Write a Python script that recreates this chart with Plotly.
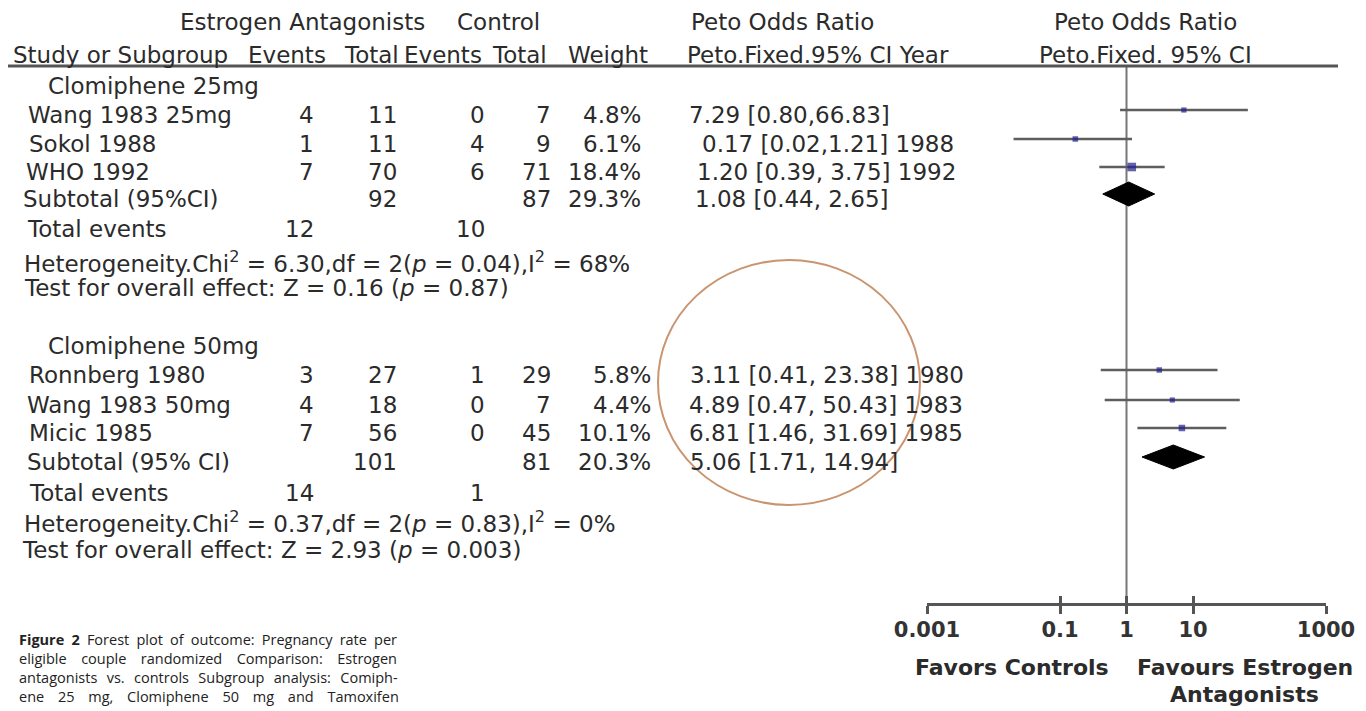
import plotly.graph_objects as go

# ---------------- data ----------------
group_names = ["Clomiphene 25mg", "Clomiphene 50mg"]

studies_g1 = ["Wang 1983 25mg", "Sokol 1988", "WHO 1992"]
ea_events_g1 = [4, 1, 7]
ea_total_g1 = [11, 11, 70]
c_events_g1 = [0, 4, 6]
c_total_g1 = [7, 9, 71]
weight_g1 = [4.8, 6.1, 18.4]
or_g1 = [7.29, 0.17, 1.20]
lo_g1 = [0.80, 0.02, 0.39]
hi_g1 = [66.83, 1.21, 3.75]
ci_text_g1 = ["7.29 [0.80,66.83]", "0.17 [0.02,1.21] 1988", "1.20 [0.39, 3.75] 1992"]

studies_g2 = ["Ronnberg 1980", "Wang 1983 50mg", "Micic 1985"]
ea_events_g2 = [3, 4, 7]
ea_total_g2 = [27, 18, 56]
c_events_g2 = [1, 0, 0]
c_total_g2 = [29, 7, 45]
weight_g2 = [5.8, 4.4, 10.1]
or_g2 = [3.11, 4.89, 6.81]
lo_g2 = [0.41, 0.47, 1.46]
hi_g2 = [23.38, 50.43, 31.69]
ci_text_g2 = ["3.11 [0.41, 23.38] 1980", "4.89 [0.47, 50.43] 1983", "6.81 [1.46, 31.69] 1985"]

subtotal_labels = ["Subtotal (95%CI)", "Subtotal (95% CI)"]
subtotal_ea_total = [92, 101]
subtotal_c_total = [87, 81]
subtotal_weight = [29.3, 20.3]
subtotal_or = [1.08, 5.06]
subtotal_lo = [0.44, 1.71]
subtotal_hi = [2.65, 14.94]
subtotal_ci_text = ["1.08 [0.44, 2.65]", "5.06 [1.71, 14.94]"]

total_events_ea = [12, 14]
total_events_c = [10, 1]
het_chi2 = ["6.30", "0.37"]
het_df = [2, 2]
het_p = ["0.04", "0.83"]
het_i2 = [68, 0]
z_value = ["0.16", "2.93"]
z_p = ["0.87", "0.003"]

axis_ticks = [0.001, 0.1, 1, 10, 1000]
axis_ticktext = ["0.001", "0.1", "1", "10", "1000"]

caption_lines = [
    "<b>Figure 2</b> Forest plot of outcome: Pregnancy rate per",
    "eligible couple randomized Comparison: Estrogen",
    "antagonists vs. controls Subgroup analysis: Comiph-",
    "ene 25 mg, Clomiphene 50 mg and Tamoxifen",
]

# ---------------- layout helpers ----------------
W, H = 1366, 711
TXT = "#2b2b2b"
FONT = "DejaVu Sans"
FS = 23


def px(x):
    return x / W


ann = []


def add_text(x, y, text, anchor="left", size=FS, family=FONT, color=TXT, weight=None):
    f = dict(family=family, size=size, color=color)
    if weight:
        f["weight"] = weight
    ann.append(dict(x=px(x), y=y, xref="paper", yref="y", text=text, showarrow=False,
                    xanchor=anchor, yanchor="middle", align="left", font=f))


# headers
add_text(302, 22, "Estrogen Antagonists", "center")
add_text(498, 22, "Control", "center")
add_text(783, 22, "Peto Odds Ratio", "center")
add_text(1145, 22, "Peto Odds Ratio", "center")
add_text(11, 55, "Study or Subgroup")
for xr, t in zip([328, 401, 484, 549, 650], ["Events", "Total", "Events", "Total", "Weight"]):
    add_text(xr, 55, t, "right")
add_text(685, 55, "Peto.Fixed.95% CI Year")
add_text(1145, 55, "Peto.Fixed. 95% CI", "center")

# row positions (pixels)
groups = [
    dict(head=86, rows=[115, 144, 172], sub=199, tot=229, het=262, test=288,
         name_x=[26, 27, 24], ci_x=[687, 700, 695], sub_ci_x=693, w_right=643,
         studies=studies_g1, ea_e=ea_events_g1, ea_t=ea_total_g1, c_e=c_events_g1,
         c_t=c_total_g1, w=weight_g1, orv=or_g1, lo=lo_g1, hi=hi_g1, ci=ci_text_g1,
         sub_x=21, tot_x=25, het_x=22, test_x=22),
    dict(head=346, rows=[375, 405, 433], sub=462, tot=493, het=522, test=550,
         name_x=[27, 25, 27], ci_x=[688, 687, 687], sub_ci_x=688, w_right=653,
         studies=studies_g2, ea_e=ea_events_g2, ea_t=ea_total_g2, c_e=c_events_g2,
         c_t=c_total_g2, w=weight_g2, orv=or_g2, lo=lo_g2, hi=hi_g2, ci=ci_text_g2,
         sub_x=25, tot_x=27, het_x=22, test_x=20),
]

COL_EA_E, COL_EA_T, COL_C_E, COL_C_T = 316, 399, 487, 553
MARK_DY = -5

ci_x, ci_y, m_x, m_y, m_s = [], [], [], [], []
dia_traces = []

for gi, g in enumerate(groups):
    add_text(46, g["head"], group_names[gi])
    for i, y in enumerate(g["rows"]):
        add_text(g["name_x"][i], y, g["studies"][i])
        add_text(COL_EA_E, y, str(g["ea_e"][i]), "right")
        add_text(COL_EA_T, y, str(g["ea_t"][i]), "right")
        add_text(COL_C_E, y, str(g["c_e"][i]), "right")
        add_text(COL_C_T, y, str(g["c_t"][i]), "right")
        add_text(g["w_right"], y, f"{g['w'][i]:.1f}%", "right")
        add_text(g["ci_x"][i], y, g["ci"][i])
        ym = y + MARK_DY
        ci_x += [g["lo"][i], g["hi"][i], None]
        ci_y += [ym, ym, None]
        m_x.append(g["orv"][i])
        m_y.append(ym)
        m_s.append(4 + 0.25 * g["w"][i])
    ys = g["sub"]
    add_text(g["sub_x"], ys, subtotal_labels[gi])
    add_text(COL_EA_T, ys, str(subtotal_ea_total[gi]), "right")
    add_text(COL_C_T, ys, str(subtotal_c_total[gi]), "right")
    add_text(g["w_right"], ys, f"{subtotal_weight[gi]:.1f}%", "right")
    add_text(g["sub_ci_x"], ys, subtotal_ci_text[gi])
    yd = ys + MARK_DY
    hh = 12
    dia_traces.append(go.Scatter(
        x=[subtotal_lo[gi], subtotal_or[gi], subtotal_hi[gi], subtotal_or[gi], subtotal_lo[gi]],
        y=[yd, yd - hh, yd, yd + hh, yd], mode="lines", fill="toself",
        fillcolor="#000000", line=dict(color="#000000", width=1), hoverinfo="skip",
        showlegend=False))
    add_text(g["tot_x"], g["tot"], "Total events")
    add_text(COL_EA_E, g["tot"], str(total_events_ea[gi]), "right")
    add_text(COL_C_E, g["tot"], str(total_events_c[gi]), "right")
    add_text(g["het_x"], g["het"],
             f"Heterogeneity.Chi<sup>2</sup> = {het_chi2[gi]},df = {het_df[gi]}(<i>p</i> = {het_p[gi]}),"
             f"I<sup>2</sup> = {het_i2[gi]}%")
    add_text(g["test_x"], g["test"],
             f"Test for overall effect: Z = {z_value[gi]} (<i>p</i> = {z_p[gi]})")

# axis side labels
add_text(1012, 667, "Favors Controls", "center", size=22, weight="bold")
add_text(1245, 667, "Favours Estrogen", "center", size=22, weight="bold")
add_text(1244, 694, "Antagonists", "center", size=22, weight="bold")

# caption (one block, each line spaced out to mimic justified text)
cap_spacing = [3.4, 10.7, 5.6, 10]
cap_text = "<br>".join(
    f'<span style="word-spacing:{sp}px">{t}</span>' for t, sp in zip(caption_lines, cap_spacing)
)
add_text(17, 668, cap_text, "left", size=14.5, family="Open Sans", color="#222222")

fig = go.Figure()

# reference line at OR = 1
fig.add_trace(go.Scatter(x=[1, 1], y=[66, 604], mode="lines",
                         line=dict(color="#777777", width=2), hoverinfo="skip", showlegend=False))
# CI lines
fig.add_trace(go.Scatter(x=ci_x, y=ci_y, mode="lines",
                         line=dict(color="#5e5e5e", width=2.5), hoverinfo="skip", showlegend=False))
# point estimates
fig.add_trace(go.Scatter(x=m_x, y=m_y, mode="markers",
                         marker=dict(symbol="square", size=m_s, color="#202090",
                                     line=dict(width=0)), showlegend=False))
for d in dia_traces:
    fig.add_trace(d)
# helper for overlay axis
fig.add_trace(go.Scatter(x=[1], y=[-100], xaxis="x2", mode="markers",
                         marker=dict(opacity=0), hoverinfo="skip", showlegend=False))

axis_pos = (H - 604) / H
dom = [px(927), px(1326)]
fig.update_layout(
    template="none",
    width=W, height=H, autosize=False,
    margin=dict(l=0, r=0, t=0, b=0, pad=0),
    paper_bgcolor="white", plot_bgcolor="white",
    showlegend=False,
    xaxis=dict(type="log", range=[-3, 3], domain=dom, anchor="free", position=axis_pos,
               automargin=False,
               showline=True, linecolor="#555555", linewidth=2.5,
               ticks="outside", ticklen=8, tickwidth=2.5, tickcolor="#555555",
               tickvals=axis_ticks, ticktext=axis_ticktext, ticklabelstandoff=-2,
               tickfont=dict(family=FONT, size=21, color="#333333", weight="bold"),
               showgrid=False, zeroline=False, fixedrange=True),
    xaxis2=dict(type="log", range=[-3, 3], domain=dom, anchor="free", position=axis_pos,
                automargin=False,
                overlaying="x", showline=False, ticks="inside", ticklen=8, tickwidth=2.5,
                tickcolor="#555555", tickvals=axis_ticks, showticklabels=False,
                showgrid=False, zeroline=False, fixedrange=True),
    yaxis=dict(range=[H, 0], domain=[0, 1], visible=False, fixedrange=True, automargin=False),
    annotations=ann,
    shapes=[
        dict(type="line", xref="paper", yref="y", x0=px(8), x1=px(1338), y0=66, y1=66,
             line=dict(color="#555555", width=3)),
        dict(type="circle", xref="paper", yref="y", x0=px(658), x1=px(920), y0=260, y1=505,
             line=dict(color="#C9946F", width=2)),
    ],
)

fig.write_html("out.html", config={"responsive": False, "displayModeBar": False},
               post_script="document.body.style.margin='0';document.body.style.overflow='hidden';")
